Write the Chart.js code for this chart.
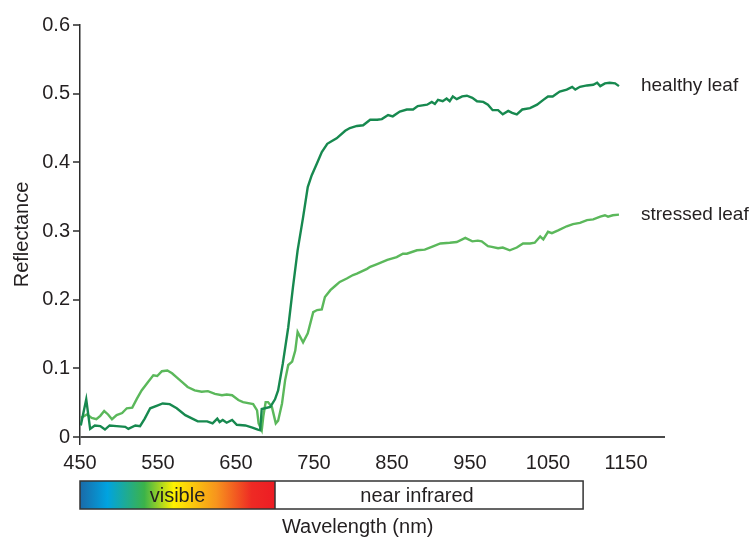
<!DOCTYPE html>
<html>
  <head>
    <title>
      Leaf reflectance
    </title>
    <script src="https://cdn.jsdelivr.net/npm/chart.js"></script>
    <style>
      body { margin: 0; background: #fff; }
      #wrap { width: 754px; height: 540px; }
    </style>
  </head>
  <body>
    <div id="wrap">
      <canvas id="myChart"></canvas>
    </div>
    <script>
      'use strict'
      const healthyNm = [451, 458, 463, 469, 476, 482, 488, 497, 508, 512, 521, 527, 533, 540, 549, 556, 565, 574, 585, 594,
        601, 613, 620, 626, 629, 633, 638, 645, 651, 662, 671, 678, 681, 683, 694, 700, 704, 710, 717, 723,
        729, 736, 742, 747, 754, 760, 767, 773, 779, 790, 796, 805, 813, 822, 831, 837, 845, 851, 860, 869,
        877, 883, 895, 901, 905, 909, 915, 920, 924, 928, 933, 940, 946, 953, 959, 967, 973, 979, 986, 992,
        999, 1004, 1010, 1017, 1027, 1036, 1044, 1050, 1056, 1065, 1074, 1081, 1085, 1091, 1100, 1108, 1113, 1117, 1123, 1129,
        1136, 1141];
      const healthyR = [0.017, 0.055, 0.012, 0.017, 0.016, 0.011, 0.017, 0.016, 0.015, 0.012, 0.017, 0.016, 0.027, 0.042, 0.046, 0.049, 0.048, 0.042, 0.032, 0.027,
        0.023, 0.023, 0.020, 0.027, 0.022, 0.025, 0.021, 0.025, 0.018, 0.017, 0.014, 0.011, 0.010, 0.041, 0.044, 0.055, 0.068, 0.107, 0.160, 0.218,
        0.272, 0.320, 0.364, 0.381, 0.399, 0.415, 0.427, 0.431, 0.435, 0.446, 0.450, 0.453, 0.454, 0.462, 0.462, 0.463, 0.469, 0.467, 0.474, 0.477,
        0.477, 0.482, 0.484, 0.488, 0.485, 0.491, 0.489, 0.493, 0.489, 0.496, 0.492, 0.496, 0.497, 0.494, 0.489, 0.488, 0.484, 0.476, 0.476, 0.470,
        0.475, 0.472, 0.470, 0.477, 0.479, 0.484, 0.491, 0.496, 0.496, 0.503, 0.506, 0.510, 0.506, 0.510, 0.512, 0.513, 0.516, 0.511, 0.515, 0.516,
        0.515, 0.511];

      const stressedNm = [451, 459, 465, 471, 476, 481, 486, 491, 497, 504, 510, 517, 523, 529, 537, 544, 549, 555, 562, 568,
        574, 581, 588, 597, 606, 614, 623, 632, 638, 645, 653, 659, 672, 677, 679, 683, 685, 688, 691, 696,
        701, 704, 709, 713, 717, 722, 726, 729, 736, 742, 749, 754, 760, 764, 771, 777, 783, 792, 800, 805,
        818, 822, 831, 844, 856, 864, 869, 882, 892, 901, 912, 924, 933, 944, 953, 960, 965, 973, 978, 986,
        992, 1001, 1010, 1018, 1027, 1033, 1040, 1044, 1050, 1055, 1063, 1074, 1082, 1091, 1100, 1108, 1117, 1123, 1127, 1133,
        1141];
      const stressedR = [0.028, 0.033, 0.028, 0.026, 0.031, 0.038, 0.033, 0.026, 0.032, 0.035, 0.042, 0.043, 0.056, 0.068, 0.080, 0.090, 0.089, 0.096, 0.097, 0.093,
        0.087, 0.080, 0.073, 0.068, 0.066, 0.067, 0.063, 0.061, 0.062, 0.061, 0.054, 0.051, 0.048, 0.039, 0.020, 0.010, 0.030, 0.051, 0.051, 0.044,
        0.020, 0.024, 0.049, 0.083, 0.105, 0.110, 0.126, 0.153, 0.138, 0.151, 0.182, 0.185, 0.186, 0.204, 0.214, 0.220, 0.226, 0.231, 0.236, 0.238,
        0.245, 0.248, 0.252, 0.258, 0.262, 0.267, 0.267, 0.272, 0.273, 0.277, 0.282, 0.283, 0.284, 0.290, 0.285, 0.286, 0.285, 0.278, 0.277, 0.275,
        0.276, 0.272, 0.276, 0.282, 0.282, 0.283, 0.292, 0.288, 0.299, 0.297, 0.301, 0.307, 0.310, 0.312, 0.316, 0.317, 0.321, 0.323, 0.321, 0.323,
        0.324];

      const seriesNames = ['healthy leaf', 'stressed leaf'];
      const xTicks = [450, 550, 650, 750, 850, 950, 1050, 1150];
      const yTicks = [0, 0.1, 0.2, 0.3, 0.4, 0.5, 0.6];
      // spectrum bar under the axis: band edges (nm), names and label centres (nm)
      const bandEdges = [450, 700, 1095];
      const bandNames = ['visible', 'near infrared'];
      const bandLabelNm = [575, 882];
      const xTitle = 'Wavelength (nm)';
      const xTitleNm = 806;

      const textColor = '#231f20';
      const font = { family: '"Liberation Sans", Arial, sans-serif', size: 20 };

      function toPoints(xs, ys) {
        return xs.map((x, i) => ({ x: x, y: ys[i] }));
      }

      const bandPlugin = {
        id: 'bandPlugin',
        afterDraw(chart) {
          const ctx = chart.ctx;
          const xs = chart.scales.x;
          const top = chart.chartArea.bottom + 37;
          const h = 28;
          const x0 = xs.getPixelForValue(bandEdges[0]);
          const x1 = xs.getPixelForValue(bandEdges[1]);
          const x2 = xs.getPixelForValue(bandEdges[2]);

          ctx.save();
          const grad = ctx.createLinearGradient(x0, 0, x1, 0);
          grad.addColorStop(0, '#1a6aa8');
          grad.addColorStop(0.14, '#00a3e0');
          grad.addColorStop(0.33, '#3bb34a');
          grad.addColorStop(0.48, '#fff200');
          grad.addColorStop(0.7, '#f7941d');
          grad.addColorStop(0.88, '#ee2a24');
          grad.addColorStop(1, '#ed1c24');
          ctx.fillStyle = grad;
          ctx.fillRect(x0, top, x1 - x0, h);

          ctx.strokeStyle = '#333';
          ctx.lineWidth = 1.5;
          ctx.strokeRect(x0, top, x2 - x0, h);
          ctx.beginPath();
          ctx.moveTo(x1, top);
          ctx.lineTo(x1, top + h);
          ctx.stroke();

          ctx.fillStyle = textColor;
          ctx.font = font.size + 'px ' + font.family;
          ctx.textAlign = 'center';
          ctx.textBaseline = 'alphabetic';
          bandNames.forEach((name, i) => {
            ctx.fillText(name, xs.getPixelForValue(bandLabelNm[i]), top + 21);
          });
          ctx.fillText(xTitle, xs.getPixelForValue(xTitleNm), top + 52);
          ctx.restore();
        }
      };

      const endLabelPlugin = {
        id: 'endLabelPlugin',
        afterDatasetsDraw(chart) {
          const ctx = chart.ctx;
          ctx.save();
          ctx.fillStyle = textColor;
          ctx.font = '19px ' + font.family;
          ctx.textAlign = 'left';
          ctx.textBaseline = 'middle';
          chart.data.datasets.forEach((ds, i) => {
            const meta = chart.getDatasetMeta(i);
            const last = meta.data[meta.data.length - 1];
            ctx.fillText(seriesNames[i], last.x + 22, last.y);
          });
          ctx.restore();
        }
      };

      const ctx = document.getElementById('myChart');

      new Chart(ctx, {
        type: 'line',
        data: {
          datasets: [{
            label: seriesNames[0],
            data: toPoints(healthyNm, healthyR),
            borderColor: '#17894f',
            borderWidth: 2.4,
            pointRadius: 0,
            tension: 0,
          }, {
            label: seriesNames[1],
            data: toPoints(stressedNm, stressedR),
            borderColor: '#5bb85b',
            borderWidth: 2.4,
            pointRadius: 0,
            tension: 0,
          }]
        },
        options: {
          responsive: true,
          maintainAspectRatio: false,
          animation: false,
          layout: { padding: { top: 25, right: 89, left: 0, bottom: 0 } },
          plugins: {
            legend: { display: false },
            tooltip: { enabled: false },
          },
          scales: {
            x: {
              type: 'linear',
              min: 450,
              max: 1200,
              afterBuildTicks: s => { s.ticks = xTicks.map(v => ({ value: v })); },
              afterFit: s => { s.height = 96; },
              border: { display: false },
              grid: { display: false, drawTicks: false },
              ticks: {
                color: textColor,
                font: font,
                padding: 7,
                maxRotation: 0,
                autoSkip: false,
                callback: v => String(v),
              },
            },
            y: {
              min: -0.01,
              max: 0.6,
              afterBuildTicks: s => { s.ticks = yTicks.map(v => ({ value: v })); },
              afterFit: s => { s.width = 80; },
              border: { display: true, color: '#2b2b2b', width: 1.5 },
              grid: {
                drawOnChartArea: true,
                color: c => (c.tick && c.tick.value === 0) ? '#4a4a4a' : 'rgba(0,0,0,0)',
                lineWidth: 2,
                drawTicks: true,
                tickLength: 7,
                tickColor: '#2b2b2b',
                tickWidth: 1.5,
              },
              ticks: {
                color: textColor,
                font: font,
                padding: 3,
                callback: v => v === 0 ? '0' : v.toFixed(1),
              },
              title: {
                display: true,
                text: 'Reflectance',
                color: textColor,
                font: font,
                padding: { top: 10, bottom: 0 },
              },
            }
          }
        },
        plugins: [bandPlugin, endLabelPlugin]
      });
    </script>
  </body>
</html>
